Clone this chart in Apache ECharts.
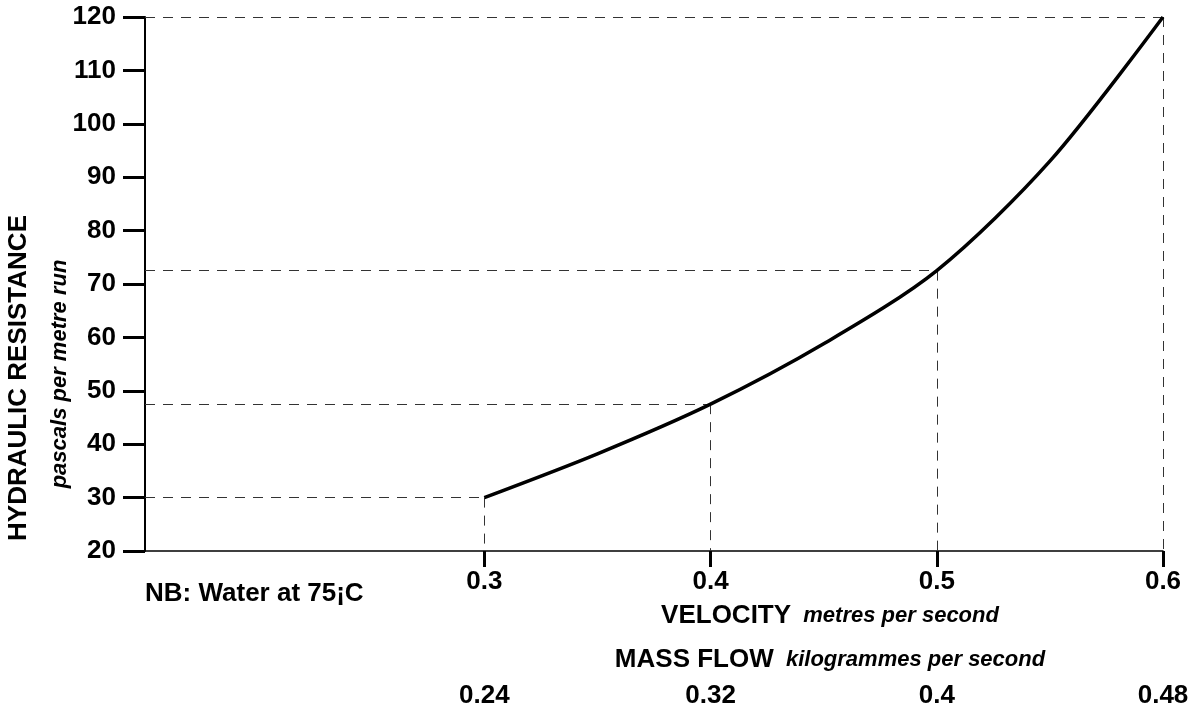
<!DOCTYPE html>
<html>
<head>
<meta charset="utf-8">
<script src="https://cdn.jsdelivr.net/npm/echarts@6/dist/echarts.min.js"></script>
<style>
  html, body { margin: 0; padding: 0; background: #fff; }
  #chart { width: 1197px; height: 709px; }
</style>
</head>
<body>
<div id="chart"></div>
<script>
// ---- data ----
const velocity = [0.3, 0.35, 0.4, 0.45, 0.5, 0.55, 0.6];          // m/s
const resistance = [30, 38.2, 47.5, 58.8, 72.5, 93, 120];         // Pa per metre run
const refVelocity = [0.3, 0.4, 0.5, 0.6];
const refResistance = [30, 47.5, 72.5, 120];
const velocityTicks = [0.3, 0.4, 0.5, 0.6];
const massFlowTicks = [0.24, 0.32, 0.4, 0.48];
const yTickLabels = [20, 30, 40, 50, 60, 70, 80, 90, 100, 110, 120];

const yTitle = 'HYDRAULIC RESISTANCE';
const yUnit = 'pascals per metre run';
const xTitle = 'VELOCITY';
const xUnit = 'metres per second';
const x2Title = 'MASS FLOW';
const x2Unit = 'kilogrammes per second';
const note = 'NB: Water at 75¡C';

// ---- chart ----
const FONT = "'Liberation Sans', Arial, Helvetica, sans-serif";
const chart = echarts.init(document.getElementById('chart'), null, { renderer: 'canvas' });

const refLines = [];
refVelocity.forEach((v, i) => {
  const r = refResistance[i];
  refLines.push([{ coord: [0.15, r] }, { coord: [v, r] }]);
  refLines.push([{ coord: [v, r] }, { coord: [v, yTickLabels[0]] }]);
});

const BOLD = 26, ITAL = 22;

const option = {
  animation: false,
  backgroundColor: '#ffffff',
  textStyle: { fontFamily: FONT },
  grid: { left: 145, right: 34, top: 17, bottom: 158, containLabel: false },
  xAxis: [
    {
      type: 'value',
      min: 0.15, max: 0.6,
      position: 'bottom',
      axisLine: { show: true, onZero: false, lineStyle: { color: '#000', width: 1.5 } },
      axisTick: { show: true, inside: false, length: 16, customValues: velocityTicks,
                  lineStyle: { color: '#000', width: 3 } },
      axisLabel: { show: true, customValues: velocityTicks, margin: 18,
                   fontFamily: FONT, fontWeight: 'bold', fontSize: BOLD, color: '#000',
                   formatter: v => String(+v.toFixed(2)) },
      splitLine: { show: false }
    },
    {
      type: 'value',
      min: 0.12, max: 0.48,
      position: 'bottom',
      offset: 120,
      axisLine: { show: false },
      axisTick: { show: false },
      axisLabel: { show: true, customValues: massFlowTicks, margin: 12,
                   fontFamily: FONT, fontWeight: 'bold', fontSize: BOLD, color: '#000',
                   formatter: v => String(+v.toFixed(2)) },
      splitLine: { show: false }
    }
  ],
  yAxis: {
    type: 'value',
    min: 20, max: 120, interval: 10,
    axisLine: { show: true, onZero: false, lineStyle: { color: '#000', width: 2 } },
    axisTick: { show: true, inside: false, length: 22, lineStyle: { color: '#000', width: 3 } },
    axisLabel: { margin: 29, fontFamily: FONT, fontWeight: 'bold', fontSize: BOLD, color: '#000' },
    splitLine: { show: false }
  },
  series: [
    {
      type: 'line',
      xAxisIndex: 0,
      data: velocity.map((v, i) => [v, resistance[i]]),
      smooth: 0.3,
      showSymbol: false,
      symbol: 'none',
      lineStyle: { color: '#000', width: 3.5 },
      z: 3,
      markLine: {
        silent: true,
        symbol: ['none', 'none'],
        label: { show: false },
        lineStyle: { color: '#333', width: 1, type: [10, 8] },
        data: refLines,
        z: 2
      }
    }
  ],
  graphic: [
    {
      type: 'text',
      x: 19, y: 378,
      rotation: Math.PI / 2,
      style: { text: yTitle, fontFamily: FONT, fontWeight: 'bold', fontSize: BOLD,
               fill: '#000', align: 'center', verticalAlign: 'middle' }
    },
    {
      type: 'text',
      x: 60, y: 374,
      rotation: Math.PI / 2,
      style: { text: yUnit, fontFamily: FONT, fontWeight: 'bold', fontStyle: 'italic', fontSize: ITAL,
               fill: '#000', align: 'center', verticalAlign: 'middle' }
    },
    {
      type: 'text',
      x: 830, y: 616,
      style: {
        text: '{a|' + xTitle + '}{b|  ' + xUnit + '}',
        align: 'center', verticalAlign: 'middle',
        rich: {
          a: { fontFamily: FONT, fontWeight: 'bold', fontSize: BOLD, fill: '#000' },
          b: { fontFamily: FONT, fontWeight: 'bold', fontStyle: 'italic', fontSize: ITAL, fill: '#000' }
        }
      }
    },
    {
      type: 'text',
      x: 830, y: 660,
      style: {
        text: '{a|' + x2Title + '}{b|  ' + x2Unit + '}',
        align: 'center', verticalAlign: 'middle',
        rich: {
          a: { fontFamily: FONT, fontWeight: 'bold', fontSize: BOLD, fill: '#000' },
          b: { fontFamily: FONT, fontWeight: 'bold', fontStyle: 'italic', fontSize: ITAL, fill: '#000' }
        }
      }
    },
    {
      type: 'text',
      x: 145, y: 594,
      style: { text: note, fontFamily: FONT, fontWeight: 'bold', fontSize: BOLD,
               fill: '#000', align: 'left', verticalAlign: 'middle' }
    }
  ]
};
chart.setOption(option);
</script>
</body>
</html>
